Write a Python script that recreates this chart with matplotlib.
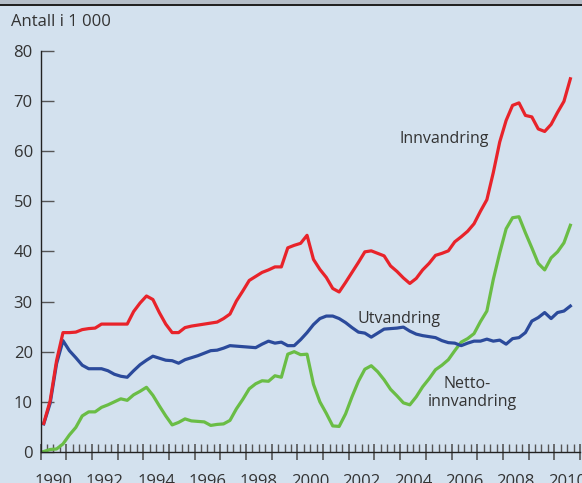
import numpy as np
import matplotlib
matplotlib.use('Agg')
import matplotlib.pyplot as plt
from matplotlib.ticker import MultipleLocator, FixedLocator
from matplotlib.transforms import ScaledTranslation
from matplotlib.patches import Rectangle

# Quarterly values, 1990 Q1 - 2010 Q3 (thousands)
innvandring = [5.7, 10.2, 18.2, 23.8, 23.8, 23.9, 24.4, 24.6, 24.7, 25.5,
               25.5, 25.5, 25.5, 25.5, 28.0, 29.7, 31.1, 30.4, 27.8, 25.5,
               23.8, 23.8, 24.8, 25.1, 25.3, 25.5, 25.7, 25.9, 26.6, 27.5,
               30.1, 32.1, 34.2, 35.0, 35.8, 36.3, 36.9, 36.9, 40.7, 41.2,
               41.6, 43.2, 38.4, 36.4, 34.8, 32.6, 31.9, 33.8, 35.8, 37.8,
               39.9, 40.1, 39.6, 39.1, 37.1, 36.0, 34.7, 33.6, 34.6, 36.3,
               37.6, 39.2, 39.6, 40.1, 41.9, 42.9, 44.0, 45.5, 48.0, 50.3,
               55.7, 61.8, 66.1, 69.1, 69.6, 67.1, 66.8, 64.4, 63.9, 65.3,
               67.7, 69.9, 74.4]
utvandring = [5.6, 9.7, 17.6, 22.2, 20.2, 18.8, 17.3, 16.6, 16.6, 16.6,
              16.2, 15.5, 15.1, 14.9, 16.2, 17.4, 18.3, 19.1, 18.7, 18.3,
              18.2, 17.7, 18.4, 18.8, 19.2, 19.7, 20.2, 20.3, 20.7, 21.2,
              21.1, 21.0, 20.9, 20.8, 21.5, 22.1, 21.7, 21.9, 21.2, 21.2,
              22.4, 23.8, 25.4, 26.6, 27.1, 27.1, 26.6, 25.8, 24.8, 23.9,
              23.7, 22.9, 23.7, 24.5, 24.6, 24.7, 24.9, 24.1, 23.5, 23.2,
              23.0, 22.8, 22.2, 21.8, 21.7, 21.2, 21.7, 22.1, 22.1, 22.5,
              22.1, 22.3, 21.5, 22.6, 22.8, 23.8, 26.1, 26.8, 27.8, 26.6,
              27.8, 28.1, 29.1]
nettoinnvandring = [0.1, 0.5, 0.6, 1.6, 3.4, 4.9, 7.2, 8.0, 8.0, 8.9,
                    9.4, 10.0, 10.6, 10.3, 11.4, 12.1, 12.9, 11.3, 9.2, 7.2,
                    5.4, 5.9, 6.6, 6.2, 6.1, 6.0, 5.3, 5.5, 5.6, 6.3,
                    8.6, 10.5, 12.6, 13.6, 14.2, 14.1, 15.2, 14.9, 19.5, 20.0,
                    19.4, 19.5, 13.5, 10.0, 7.7, 5.2, 5.1, 7.6, 11.0, 14.1,
                    16.5, 17.2, 16.0, 14.4, 12.5, 11.2, 9.8, 9.4, 11.0, 13.0,
                    14.6, 16.4, 17.3, 18.4, 20.2, 21.9, 22.6, 23.6, 26.0, 28.1,
                    34.4, 39.7, 44.5, 46.7, 46.9, 43.7, 40.7, 37.6, 36.3, 38.7,
                    39.9, 41.7, 45.2]
year_labels = [1990, 1992, 1994, 1996, 1998, 2000, 2002, 2004, 2006, 2008, 2010]
y_ticks = [0, 10, 20, 30, 40, 50, 60, 70, 80]

plt.rcParams['font.family'] = ['Open Sans', 'DejaVu Sans']

bg = '#d3e1ee'
txt = '#333333'
fig = plt.figure(figsize=(5.82, 4.83), dpi=100, facecolor=bg)
W, H = 582, 483
ax = fig.add_axes([40.5 / W, (H - 452) / H, (580 - 40.5) / W, (452 - 50.7) / H])
ax.set_facecolor(bg)

# quarter midpoints
t = 1990 + (np.arange(len(innvandring)) + 0.5) / 4
ax.plot(t, nettoinnvandring, color='#6abd45', lw=2.3, solid_joinstyle='round')
ax.plot(t, utvandring, color='#2b4a9b', lw=2.3, solid_joinstyle='round')
ax.plot(t, innvandring, color='#e8232a', lw=2.3, solid_joinstyle='round')

ax.set_xlim(1990, 2011)
ax.set_ylim(0, 80)
for s in ['top', 'right']:
    ax.spines[s].set_visible(False)
ax.spines['left'].set_color('#222222')
ax.spines['bottom'].set_color('#222222')
ax.spines['left'].set_linewidth(1.0)
ax.spines['bottom'].set_linewidth(1.0)

ax.set_yticks(y_ticks)
ax.tick_params(axis='y', direction='in', length=9.3, width=1.0, color='#555555',
               labelsize=12, labelcolor=txt, pad=5.5)

years = np.arange(1990, 2012)
ax.xaxis.set_major_locator(FixedLocator(years))
ax.set_xticklabels([str(y) if y in year_labels else '' for y in years])
ax.xaxis.set_minor_locator(MultipleLocator(0.25))
ax.tick_params(axis='x', which='major', direction='inout', length=12.2, width=1.1,
               color='#4a4a4a', labelsize=12, labelcolor=txt, pad=9.5)
ax.tick_params(axis='x', which='minor', direction='in', length=5.8, width=1.0,
               color='#555555')
shift = ScaledTranslation(0.5 * (580 - 40.5) / 21 / 100, 0, fig.dpi_scale_trans)
for lab in ax.get_xticklabels():
    lab.set_transform(lab.get_transform() + shift)

fig.text(11 / W, 1 - 22 / H, 'Antall i 1 000', fontsize=12, color=txt,
         ha='left', va='center')

ax.text(2005.71, 62.3, 'Innvandring', fontsize=11.5, color=txt, ha='center', va='center')
ax.text(2003.94, 26.6, 'Utvandring', fontsize=11.5, color=txt, ha='center', va='center')
ax.text(2006.62, 13.5, 'Netto-', fontsize=11.5, color=txt, ha='center', va='center')
ax.text(2006.82, 9.9, 'innvandring', fontsize=11.5, color=txt, ha='center', va='center')

# top border
fig.patches.append(Rectangle((0, 1 - 4.5 / H), 1, 4.5 / H, transform=fig.transFigure,
                             facecolor='#b5bec8', edgecolor='none'))
fig.patches.append(Rectangle((0, 1 - 6 / H), 1, 1.8 / H, transform=fig.transFigure,
                             facecolor='#222222', edgecolor='none'))

fig.savefig('out.png', dpi=100, facecolor=bg)
